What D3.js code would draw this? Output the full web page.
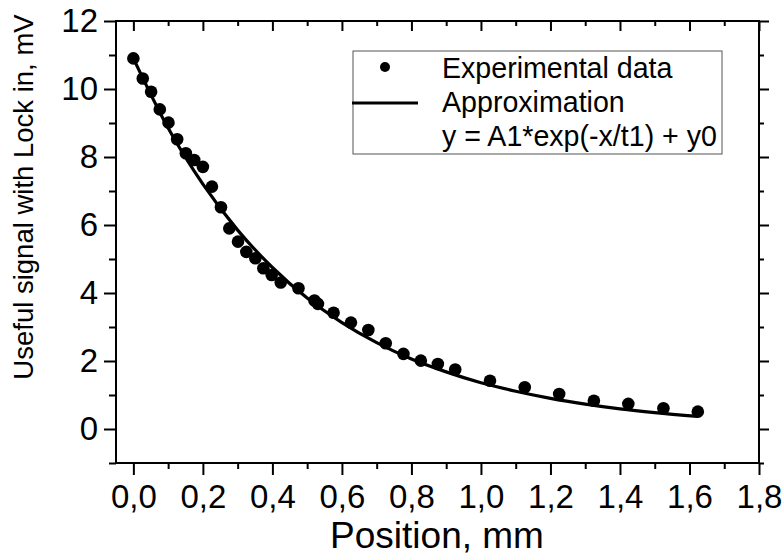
<!DOCTYPE html>
<html lang="en">
	<head>
		<meta charset="utf-8">
		<title>Lock-in signal vs position</title>
		<script type="text/javascript" src="https://cdn.jsdelivr.net/npm/d3@7"></script>
		<style type="text/css">
			body { margin: 0; background: white; }
			text { font-family: Arial, "Liberation Sans", sans-serif; fill: black; }
		</style>
	</head>
	<body>
	<script type="text/javascript">

			//data
			var posX = [0.0, 0.027, 0.051, 0.076, 0.101, 0.126, 0.151, 0.175, 0.200, 0.226,
			            0.252, 0.276, 0.301, 0.325, 0.351, 0.374, 0.398, 0.424, 0.475, 0.521,
			            0.531, 0.576, 0.626, 0.676, 0.726, 0.777, 0.827, 0.876, 0.926, 1.026,
			            1.126, 1.225, 1.325, 1.424, 1.525, 1.624]
			var signalY = [10.90, 10.31, 9.92, 9.40, 9.01, 8.52, 8.11, 7.91, 7.71, 7.13,
			               6.52, 5.90, 5.51, 5.21, 5.02, 4.73, 4.53, 4.31, 4.14, 3.78,
			               3.68, 3.42, 3.13, 2.91, 2.52, 2.21, 2.01, 1.91, 1.75, 1.42,
			               1.23, 1.03, 0.83, 0.74, 0.61, 0.51]

			//the fitted line, read at a few positions along it
			var fitX = [0.0, 0.1, 0.2, 0.3, 0.4, 0.5, 0.6, 0.7, 0.8, 0.9, 1.0, 1.1, 1.2, 1.3, 1.4, 1.5, 1.624]
			var fitY = [10.9, 8.85, 7.2, 5.85, 4.75, 3.85, 3.13, 2.54, 2.06, 1.68, 1.36, 1.11, 0.90, 0.73, 0.59, 0.48, 0.37]

			var xTicks = [0, 0.2, 0.4, 0.6, 0.8, 1.0, 1.2, 1.4, 1.6, 1.8]
			var xMinor = [0.1, 0.3, 0.5, 0.7, 0.9, 1.1, 1.3, 1.5, 1.7]
			var yTicks = [0, 2, 4, 6, 8, 10, 12]
			var yMinor = [-1, 1, 3, 5, 7, 9, 11]

			var legendLabels = ["Experimental data", "Approximation", "y = A1*exp(-x/t1) + y0"]

			var w = 784
			var h = 556
			//plot box edges (careful: "top" is taken by window.top)
			var pLeft = 116, pRight = 759, pTop = 21, pBottom = 463

			var svg = d3.select("body").append("svg").attr("width", w).attr("height", h)

			var x = d3.scaleLinear().domain([-0.05, 1.8]).range([pLeft, pRight])
			var y = d3.scaleLinear().domain([-1, 12]).range([pBottom, pTop])

			//comma as decimal sign
			var loc = d3.formatLocale({decimal: ",", thousands: " ", grouping: [3], currency: ["", ""]})
			var fmt = loc.format(".1f")

			function styleAxis(g){
				g.select(".domain").remove()
				g.selectAll("line").attr("stroke", "black").attr("stroke-width", 2)
			}

			//minor ticks first, then major ones with labels
			svg.append("g").attr("transform", "translate(0," + pBottom + ")")
				.call(d3.axisBottom(x).tickValues(xMinor).tickSize(6).tickFormat(""))
				.call(styleAxis)
			var xAxis = svg.append("g").attr("transform", "translate(0," + pBottom + ")")
				.call(d3.axisBottom(x).tickValues(xTicks).tickSize(12).tickPadding(10).tickFormat(fmt))
				.call(styleAxis)
			xAxis.selectAll("text").attr("font-size", 33).attr("fill", "black")

			svg.append("g").attr("transform", "translate(" + pLeft + ",0)")
				.call(d3.axisLeft(y).tickValues(yMinor).tickSize(7).tickFormat(""))
				.call(styleAxis)
			var yAxis = svg.append("g").attr("transform", "translate(" + pLeft + ",0)")
				.call(d3.axisLeft(y).tickValues(yTicks).tickSize(12).tickPadding(6))
				.call(styleAxis)
			yAxis.selectAll("text").attr("font-size", 33).attr("fill", "black")

			//mirrored axes on top and right, ticks pointing in
			svg.append("g").attr("transform", "translate(0," + pTop + ")")
				.call(d3.axisBottom(x).tickValues(xMinor).tickSize(5).tickFormat(""))
				.call(styleAxis)
			svg.append("g").attr("transform", "translate(0," + pTop + ")")
				.call(d3.axisBottom(x).tickValues(xTicks).tickSize(10).tickFormat(""))
				.call(styleAxis)
			svg.append("g").attr("transform", "translate(" + pRight + ",0)")
				.call(d3.axisLeft(y).tickValues(yMinor).tickSize(-5).tickFormat(""))
				.call(styleAxis)
			svg.append("g").attr("transform", "translate(" + pRight + ",0)")
				.call(d3.axisLeft(y).tickValues(yTicks).tickSize(-10).tickFormat(""))
				.call(styleAxis)

			//frame
			svg.append("rect")
				.attr("x", pLeft).attr("y", pTop)
				.attr("width", pRight - pLeft).attr("height", pBottom - pTop)
				.attr("fill", "none").attr("stroke", "black").attr("stroke-width", 2)

			//fit line
			var fitData = fitX.map(function(d, i){ return [d, fitY[i]] })
			var line = d3.line()
				.x(function(d){ return x(d[0]) })
				.y(function(d){ return y(d[1]) })
				.curve(d3.curveMonotoneX)
			svg.append("path")
				.attr("d", line(fitData))
				.attr("fill", "none").attr("stroke", "black").attr("stroke-width", 3.2)

			//experimental points
			var pts = posX.map(function(d, i){ return [d, signalY[i]] })
			svg.selectAll(".pt").data(pts).enter().append("circle")
				.attr("class", "pt")
				.attr("cx", function(d){ return x(d[0]) })
				.attr("cy", function(d){ return y(d[1]) })
				.attr("r", 6.3)
				.attr("fill", "black")

			//legend
			var lg = svg.append("g")
			lg.append("rect")
				.attr("x", 353).attr("y", 51).attr("width", 369).attr("height", 103)
				.attr("fill", "white").attr("stroke", "#555").attr("stroke-width", 1)
			lg.append("circle").attr("cx", 385).attr("cy", 67).attr("r", 5).attr("fill", "black")
			lg.append("line").attr("x1", 352).attr("x2", 418).attr("y1", 103).attr("y2", 103)
				.attr("stroke", "black").attr("stroke-width", 3.2)
			lg.selectAll(".lt").data(legendLabels).enter().append("text")
				.attr("class", "lt")
				.attr("x", 442)
				.attr("y", function(d, i){ return [78, 112, 146][i] })
				.attr("font-size", 28.6)
				.text(function(d){ return d })

			//axis titles
			svg.append("text")
				.attr("x", 437).attr("y", 548)
				.attr("text-anchor", "middle")
				.attr("font-size", 37)
				.text("Position, mm")
			svg.append("text")
				.attr("transform", "translate(33,197) rotate(-90)")
				.attr("text-anchor", "middle")
				.attr("font-size", 27.5)
				.text("Useful signal with Lock in, mV")

		</script>
	</body>
</html>
